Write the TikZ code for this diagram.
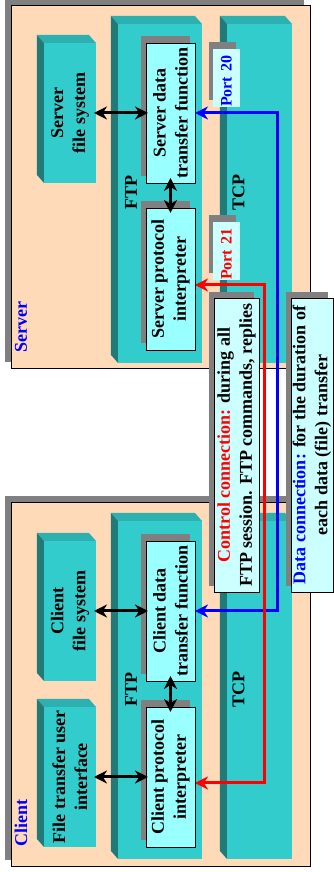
\documentclass[tikz,border=0pt]{standalone}
\usepackage{fontspec}
\setmainfont{Liberation Serif}
\usetikzlibrary{arrows.meta,shadows,calc}

\definecolor{peach}{RGB}{255,218,185}
\definecolor{tealfront}{RGB}{51,204,204}
\definecolor{tealside}{RGB}{45,176,176}
\definecolor{tealtop}{RGB}{31,122,120}
\definecolor{boxcyan}{RGB}{153,255,255}
\definecolor{notecyan}{RGB}{204,255,255}
\definecolor{shadowgray}{RGB}{128,128,128}

% shadow shifts are taken on the page, not in the turned frame
\tikzset{
  host/.style={draw=black, fill=peach, line width=0.8pt, inner sep=0pt, outer sep=0pt,
    general shadow={fill=shadowgray, shadow xshift=-6pt, shadow yshift=6pt}},
  hostname/.style={text=blue, font=\fontsize{18}{22}\selectfont\bfseries, inner sep=0pt},
  layer/.style={fill=tealfront, inner sep=0pt, outer sep=0pt, align=center,
    font=\fontsize{18}{22}\selectfont\bfseries},
  layertag/.style={font=\fontsize{18}{22}\selectfont\bfseries, inner sep=0pt},
  ftpbox/.style={draw=black, fill=boxcyan, line width=0.8pt, inner sep=0pt, outer sep=0pt,
    align=center, font=\fontsize{18}{22}\selectfont\bfseries,
    general shadow={fill=shadowgray, shadow xshift=-5pt, shadow yshift=7pt}},
  port/.style={fill=notecyan, inner sep=0pt, outer sep=0pt, text width=58pt, align=left,
    minimum height=27pt, font=\fontsize{16}{18}\selectfont\bfseries,
    general shadow={fill=shadowgray, shadow xshift=-4pt, shadow yshift=7pt}},
  note/.style={draw=black, fill=notecyan, line width=0.8pt, inner sep=0pt, outer sep=0pt,
    align=center, font=\fontsize{18}{22}\selectfont\bfseries,
    general shadow={fill=shadowgray, shadow xshift=-5pt, shadow yshift=6pt}},
  biarrow/.style={<->, line width=3pt},
  ctrlline/.style={<->, line width=3pt, red},
  dataline/.style={<->, line width=3pt, blue}
}

% side faces of a teal block
\newcommand{\blockdepth}[1]{%
  \fill[tealside] (#1.south east) -- ($(#1.south east)+(8,7)$) -- ($(#1.north east)+(8,7)$) -- (#1.north east) -- cycle;
  \fill[tealtop] (#1.north west) -- ($(#1.north west)+(8,7)$) -- ($(#1.north east)+(8,7)$) -- (#1.north east) -- cycle;
}

\begin{document}
\begin{tikzpicture}[x=1pt, y=1pt, rotate=90, transform shape,
    >={Stealth[length=13pt, width=13pt]}]
  \useasboundingbox (0,0) rectangle (872,334);

  % hosts
  \node[host, minimum width=363pt, minimum height=299pt] (server) at (685.5,173.5) {};
  \node[host, minimum width=364pt, minimum height=299pt] (client) at (188,173.5) {};
  \node[hostname, anchor=west] (servername) at (519,313) {Server};
  \node[hostname, anchor=west] (clientname) at (25,313) {Client};

  % server layers
  \node[layer, minimum width=339pt, minimum height=84pt] (sftp) at (678.5,174) {};
  \node[layer, minimum width=339pt, minimum height=65pt] (stcp) at (678.5,74.5) {};
  \node[layer, minimum width=140pt, minimum height=52pt] (sfs) at (759,264) {Server\\file system};
  \blockdepth{sftp}
  \blockdepth{stcp}
  \blockdepth{sfs}
  \node[layertag] (sftptag) at (679,203) {FTP};
  \node[layertag] (stcptag) at (679,95.5) {TCP};

  % client layers
  \node[layer, minimum width=338pt, minimum height=84pt] (cftp) at (182,174) {};
  \node[layer, minimum width=338pt, minimum height=65pt] (ctcp) at (182,74.5) {};
  \node[layer, minimum width=140pt, minimum height=52pt] (cfs) at (261,264) {Client\\file system};
  \node[layer, minimum width=140pt, minimum height=52pt] (cui) at (95,264) {File transfer user\\interface};
  \blockdepth{cftp}
  \blockdepth{ctcp}
  \blockdepth{cfs}
  \blockdepth{cui}
  \node[layertag] (cftptag) at (182,203) {FTP};
  \node[layertag] (ctcptag) at (182,95.5) {TCP};

  % FTP boxes
  \node[ftpbox, minimum width=140pt, minimum height=49pt] (sdt) at (759,163.5) {Server data\\transfer function};
  \node[ftpbox, minimum width=142pt, minimum height=49pt] (spi) at (593,163.5) {Server protocol\\interpreter};
  \node[ftpbox, minimum width=140pt, minimum height=49pt] (cdt) at (261,163.5) {Client data\\transfer function};
  \node[ftpbox, minimum width=140pt, minimum height=49pt] (cpi) at (95,163.5) {Client protocol\\interpreter};

  % ports
  \node[port, text=blue] (port20) at (794,107.5) {Port 20};
  \node[port, text=red] (port21) at (621,107.5) {Port 21};

  % connection notes
  \node[note, minimum width=294pt, minimum height=45pt] (ctrlnote) at (427,97.5)
    {\textcolor{red}{Control connection:} during all\\FTP session. FTP commands, replies};
  \node[note, minimum width=294pt, minimum height=42pt] (datanote) at (427,22)
    {\textcolor{blue}{Data connection:} for the duration of\\each data (file) transfer};

  % arrows
  \draw[biarrow, shorten <=-2pt, shorten >=-2pt] (sfs) -- (sdt);
  \draw[biarrow, shorten <=-5pt, shorten >=-5pt] (sdt) -- (spi);
  \draw[biarrow, shorten <=-2pt, shorten >=-2pt] (cfs) -- (cdt);
  \draw[biarrow, shorten <=-5pt, shorten >=-5pt] (cdt) -- (cpi);
  \draw[biarrow, shorten <=-2pt, shorten >=-2pt] (cui) -- (cpi);

  \draw[dataline] (sdt.south) -- ++(0,-83) -| (cdt.south);
  \draw[ctrlline] ($(spi.south)+(-6,0)$) -- ++(0,-70) -| ($(cpi.south)+(-6,0)$);
\end{tikzpicture}
\end{document}
